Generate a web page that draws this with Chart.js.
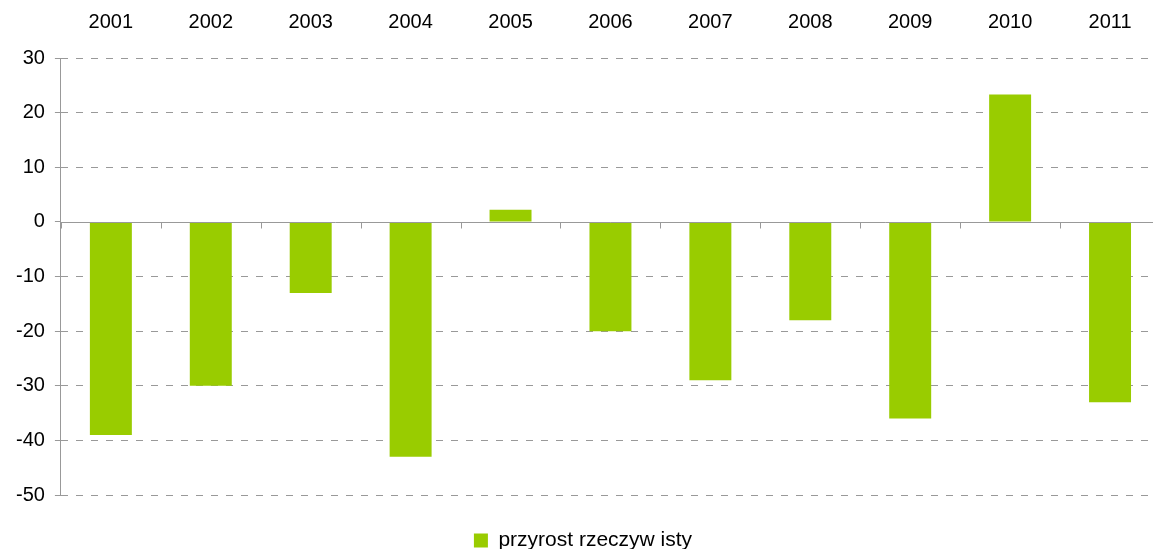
<!DOCTYPE html>
<html>
<head>
<meta charset="utf-8">
<script src="https://cdn.jsdelivr.net/npm/chart.js@4.4.1/dist/chart.umd.min.js"></script>
<style>
html,body{margin:0;padding:0;background:#fff;overflow:hidden;}
#wrap{position:relative;width:1166px;height:561px;}
</style>
</head>
<body>
<div id="wrap"><canvas id="c"></canvas></div>
<script>
const categories = ['2001','2002','2003','2004','2005','2006','2007','2008','2009','2010','2011'];
const seriesName = 'przyrost rzeczyw isty';
const values = [-39, -30, -13, -43, 2.2, -20, -29, -18, -36, 23.3, -33];
const yTicks = [30, 20, 10, 0, -10, -20, -30, -40, -50];

const FONT = "'Liberation Sans', Arial, sans-serif";
const GREEN = '#99cc00';
const AXIS = '#999999';

const zeroLine = {
  id: 'zeroLine',
  afterDatasetsDraw(chart) {
    const {ctx, scales: {y}, chartArea} = chart;
    const y0 = Math.round(y.getPixelForValue(0)) + 0.5;
    ctx.save();
    ctx.strokeStyle = AXIS;
    ctx.lineWidth = 1;
    ctx.setLineDash([]);
    ctx.beginPath();
    ctx.moveTo(chartArea.left, y0);
    ctx.lineTo(chartArea.right, y0);
    const n = categories.length;
    const w = (chartArea.right - chartArea.left) / n;
    for (let i = 0; i <= n; i++) {
      const xx = Math.round(chartArea.left + i * w) + 0.5;
      ctx.moveTo(xx, y0);
      ctx.lineTo(xx, y0 + 6);
    }
    ctx.stroke();
    ctx.restore();
  }
};

new Chart(document.getElementById('c'), {
  type: 'bar',
  data: {
    labels: categories,
    datasets: [{
      label: seriesName,
      data: values,
      backgroundColor: GREEN,
      borderWidth: 0,
      categoryPercentage: 1,
      barPercentage: 0.42
    }]
  },
  options: {
    responsive: true,
    maintainAspectRatio: false,
    animation: false,
    layout: { padding: { top: 0, left: 6, right: 6, bottom: 0 } },
    plugins: {
      tooltip: { enabled: false },
      legend: {
        position: 'bottom',
        labels: {
          boxWidth: 14, boxHeight: 14,
          padding: 35,
          color: '#000',
          font: { family: FONT, size: 21 }
        }
      }
    },
    scales: {
      x: {
        position: 'top',
        afterFit(s) { s.height = 58; },
        grid: { display: false, drawTicks: false, tickLength: 0 },
        border: { display: false },
        ticks: { color: '#000', font: { family: FONT, size: 20 }, padding: 24, maxRotation: 0 }
      },
      y: {
        min: -50, max: 30,
        afterBuildTicks(s) { s.ticks = yTicks.map(v => ({value: v})); },
        grid: {
          color: ctx => (ctx.tick && ctx.tick.value === 0) ? 'rgba(0,0,0,0)' : AXIS,
          tickColor: AXIS,
          tickLength: 6,
          tickBorderDash: [],
          lineWidth: 1
        },
        border: { display: true, color: AXIS, dash: [7, 8] },
        ticks: { color: '#000', font: { family: FONT, size: 20 }, padding: 10 }
      }
    }
  },
  plugins: [zeroLine]
});
</script>
</body>
</html>
